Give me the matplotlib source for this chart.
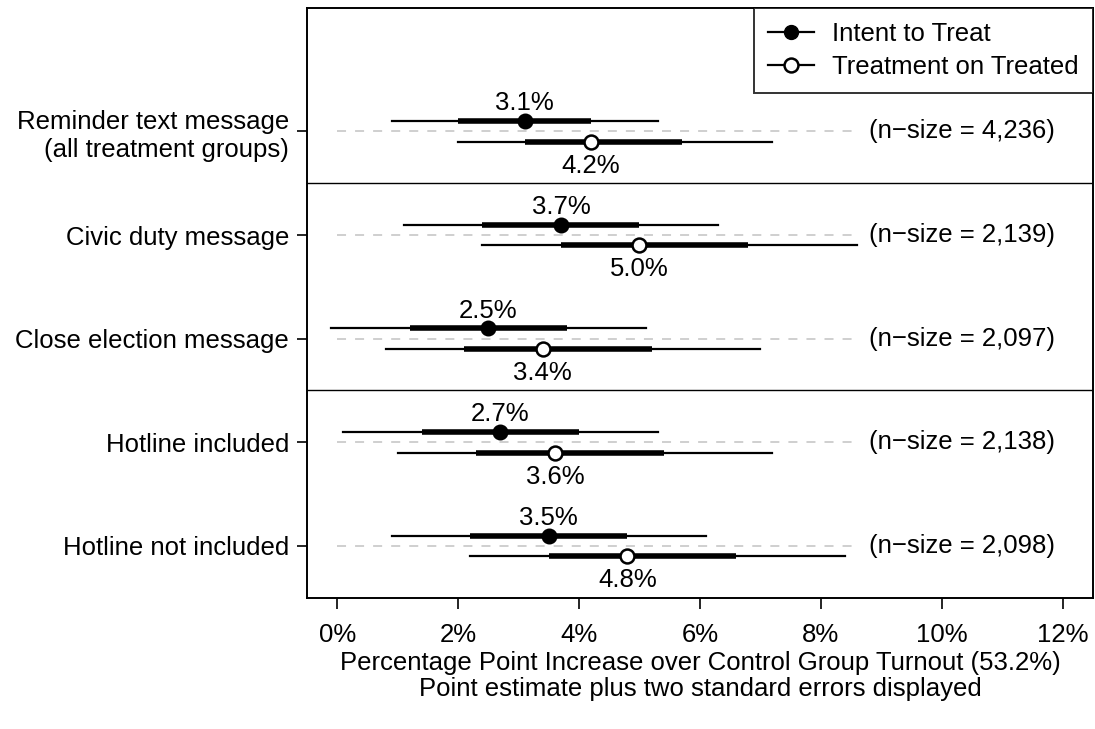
import matplotlib
matplotlib.use("Agg")
from matplotlib import pyplot as plt
from matplotlib.lines import Line2D

plt.rcParams["font.family"] = ["Liberation Sans", "DejaVu Sans"]

categories = [
    "Reminder text message\n(all treatment groups)",
    "Civic duty message",
    "Close election message",
    "Hotline included",
    "Hotline not included",
]
n_sizes = ["4,236", "2,139", "2,097", "2,138", "2,098"]

# intent to treat: estimate, one-SE band, two-SE band (in %)
itt_est = [3.1, 3.7, 2.5, 2.7, 3.5]
itt_lo1 = [2.0, 2.4, 1.2, 1.4, 2.2]
itt_hi1 = [4.2, 5.0, 3.8, 4.0, 4.8]
itt_lo2 = [0.9, 1.1, -0.1, 0.1, 0.9]
itt_hi2 = [5.3, 6.3, 5.1, 5.3, 6.1]

# treatment on treated
tot_est = [4.2, 5.0, 3.4, 3.6, 4.8]
tot_lo1 = [3.1, 3.7, 2.1, 2.3, 3.5]
tot_hi1 = [5.7, 6.8, 5.2, 5.4, 6.6]
tot_lo2 = [2.0, 2.4, 0.8, 1.0, 2.2]
tot_hi2 = [7.2, 8.6, 7.0, 7.2, 8.4]

xticks = [0, 2, 4, 6, 8, 10, 12]

fig = plt.figure(figsize=(10.95, 7.29), dpi=100)
ax = fig.add_axes([0.2804, 0.180, 0.7176, 0.809])

fs = 18.5
ypos = [5, 4, 3, 2, 1]
off = 0.1

for i, y in enumerate(ypos):
    ax.plot([0, 8.55], [y, y], color="#cccccc", lw=1.3, dashes=(5, 5), zorder=1)

    ax.plot([itt_lo2[i], itt_hi2[i]], [y + off] * 2, color="black", lw=1.6, zorder=2)
    ax.plot([itt_lo1[i], itt_hi1[i]], [y + off] * 2, color="black", lw=4.0, zorder=2,
            solid_capstyle="butt")
    ax.plot(itt_est[i], y + off, "o", ms=10, mfc="black", mec="black", mew=1.5, zorder=3)
    ax.text(itt_est[i], y + off + 0.17, f"{itt_est[i]:.1f}%", ha="center", va="center",
            fontsize=fs)

    ax.plot([tot_lo2[i], tot_hi2[i]], [y - off] * 2, color="black", lw=1.6, zorder=2)
    ax.plot([tot_lo1[i], tot_hi1[i]], [y - off] * 2, color="black", lw=4.0, zorder=2,
            solid_capstyle="butt")
    ax.plot(tot_est[i], y - off, "o", ms=10, mfc="white", mec="black", mew=1.8, zorder=3)
    ax.text(tot_est[i], y - off - 0.23, f"{tot_est[i]:.1f}%", ha="center", va="center",
            fontsize=fs)

    ax.text(8.8, y, f"(n\u2212size = {n_sizes[i]})", ha="left", va="center", fontsize=fs)

# group separators
for ysep in [4.5, 2.5]:
    ax.axhline(ysep, color="black", lw=1.0)

ax.set_xlim(-0.5, 12.5)
ax.set_ylim(0.5, 6.19)
ax.set_xticks(xticks)
ax.set_xticklabels([f"{t}%" for t in xticks], fontsize=fs)
ax.set_yticks(ypos)
ax.set_yticklabels(categories, fontsize=fs, ha="right")
ax.tick_params(axis="x", direction="out", length=8, width=1.2, pad=10)
ax.tick_params(axis="y", direction="out", length=7, width=1.2, pad=6)
for s in ax.spines.values():
    s.set_linewidth(1.4)

ax.set_xlabel("Percentage Point Increase over Control Group Turnout (53.2%)\n"
              "Point estimate plus two standard errors displayed",
              fontsize=fs, labelpad=3, linespacing=1.1)

handles = [
    Line2D([], [], color="black", lw=1.6, marker="o", ms=10, mfc="black", mec="black"),
    Line2D([], [], color="black", lw=1.6, marker="o", ms=10, mfc="white", mec="black", mew=1.8),
]
leg = ax.legend(handles, ["Intent to Treat", "Treatment on Treated"], loc="upper right",
                fontsize=fs, frameon=True, fancybox=False, borderaxespad=0,
                handlelength=1.8, handletextpad=0.7, borderpad=0.55, labelspacing=0.35)
leg.get_frame().set_edgecolor("black")
leg.get_frame().set_linewidth(1.4)

fig.savefig("out.png", dpi=100)
